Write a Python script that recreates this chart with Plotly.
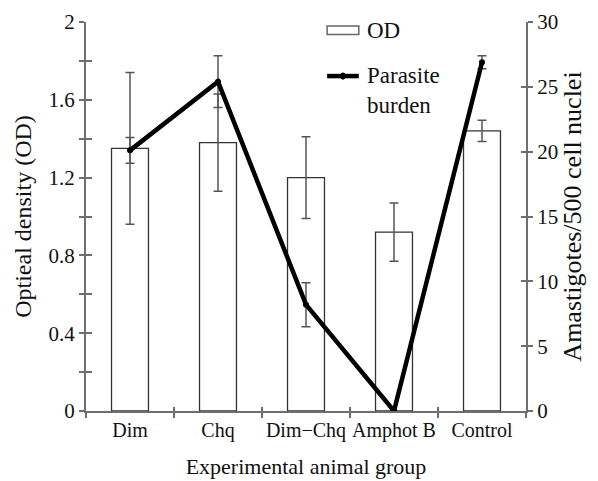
import plotly.graph_objects as go

groups = ["Dim", "Chq", "Dim\u2212Chq", "Amphot B", "Control"]
od_values = [1.35, 1.38, 1.20, 0.92, 1.44]
od_errors = [0.39, 0.25, 0.21, 0.15, 0.055]
burden_values = [20.1, 25.4, 8.2, 0.0, 26.9]
burden_errors = [1.0, 2.0, 1.7, 0.0, 0.5]
boundaries = [0.5, 1.5, 2.5, 3.5]

FONT = "Liberation Serif, Times New Roman, DejaVu Serif, serif"
AX = "#6e6e6e"
ERR = "#555555"

fig = go.Figure()
fig.add_trace(go.Bar(
    x=groups, y=od_values, name="OD", width=0.42,
    marker=dict(color="white", line=dict(color="#333333", width=1.3)),
    error_y=dict(type="data", array=od_errors, color=ERR, thickness=1.5, width=4.5),
    showlegend=False,
))
fig.add_trace(go.Scatter(
    x=groups, y=burden_values, name="Parasite burden", yaxis="y2",
    mode="lines+markers",
    line=dict(color="black", width=4.5),
    marker=dict(color="black", size=6),
    error_y=dict(type="data", array=burden_errors, color=ERR, thickness=1.5, width=4.5),
    showlegend=False,
))
# helper traces so overlay tick axes render
fig.add_trace(go.Scatter(x=[None], y=[None], xaxis="x2", yaxis="y3", showlegend=False, hoverinfo="skip"))
fig.add_trace(go.Scatter(x=[None], y=[None], yaxis="y4", showlegend=False, hoverinfo="skip"))

common = dict(showgrid=False, zeroline=False, automargin=False)

fig.update_layout(
    width=598, height=481,
    margin=dict(l=78, r=80, t=14, b=78),
    paper_bgcolor="white", plot_bgcolor="white",
    font=dict(family=FONT, color="#111111"),
    xaxis=dict(
        type="category", categoryorder="array", categoryarray=groups,
        range=[-0.5, 4.5], tickson="boundaries", tickangle=0,
        ticks="outside", ticklen=5, tickwidth=2, tickcolor=AX,
        showline=True, linecolor=AX, linewidth=2,
        tickfont=dict(size=20, family=FONT),
        title=dict(text="Experimental animal group", font=dict(size=22, family=FONT), standoff=18),
        **common,
    ),
    xaxis2=dict(
        overlaying="x", anchor="y", range=[-0.5, 4.5], tickmode="array", tickvals=boundaries,
        ticks="inside", ticklen=4, tickwidth=2, tickcolor=AX,
        showticklabels=False, showline=False, **common,
    ),
    yaxis=dict(
        range=[0, 2], tick0=0, dtick=0.4,
        ticks="outside", ticklen=5, tickwidth=2, tickcolor=AX,
        minor=dict(dtick=0.2, ticks="outside", ticklen=5, tickwidth=2, tickcolor=AX),
        showline=True, linecolor=AX, linewidth=2,
        tickfont=dict(size=21, family=FONT),
        title=dict(text="Optieal density (OD)", font=dict(size=24, family=FONT), standoff=10),
        **common,
    ),
    yaxis3=dict(
        overlaying="y", anchor="x", side="left", range=[0, 2], tick0=0, dtick=0.4,
        ticks="inside", ticklen=6, tickwidth=2, tickcolor=AX,
        minor=dict(dtick=0.2, ticks="inside", ticklen=6, tickwidth=2, tickcolor=AX),
        showticklabels=False, showline=False, **common,
    ),
    yaxis2=dict(
        overlaying="y", anchor="x", side="right", range=[0, 30], tick0=0, dtick=5,
        ticks="outside", ticklen=5, tickwidth=2, tickcolor=AX,
        showline=True, linecolor=AX, linewidth=2,
        tickfont=dict(size=21, family=FONT),
        title=dict(text="Amastigotes/500 cell nuclei", font=dict(size=26, family=FONT), standoff=2),
        **common,
    ),
    yaxis4=dict(
        overlaying="y", anchor="x", side="right", range=[0, 30], tick0=0, dtick=5,
        ticks="inside", ticklen=5, tickwidth=2, tickcolor=AX,
        showticklabels=False, showline=False, **common,
    ),
)

# manual legend
fig.add_shape(type="rect", xref="paper", yref="paper",
              x0=0.548, x1=0.620, y0=0.968, y1=0.990,
              line=dict(color="#666666", width=1.5), fillcolor="white")
fig.add_shape(type="line", xref="paper", yref="paper",
              x0=0.548, x1=0.620, y0=0.861, y1=0.861,
              line=dict(color="black", width=4.5))
fig.add_shape(type="circle", xref="paper", yref="paper",
              x0=0.578, x1=0.590, y0=0.853, y1=0.869,
              line=dict(color="black", width=1), fillcolor="black")
fig.add_annotation(text="OD", xref="paper", yref="paper", x=0.635, y=0.979,
                   xanchor="left", yanchor="middle", showarrow=False,
                   font=dict(size=23, family=FONT, color="#111111"))
fig.add_annotation(text="Parasite<br>burden", xref="paper", yref="paper", x=0.635, y=0.823,
                   xanchor="left", yanchor="middle", align="left", showarrow=False,
                   font=dict(size=23, family=FONT, color="#111111"))

fig.write_html("out.html")
